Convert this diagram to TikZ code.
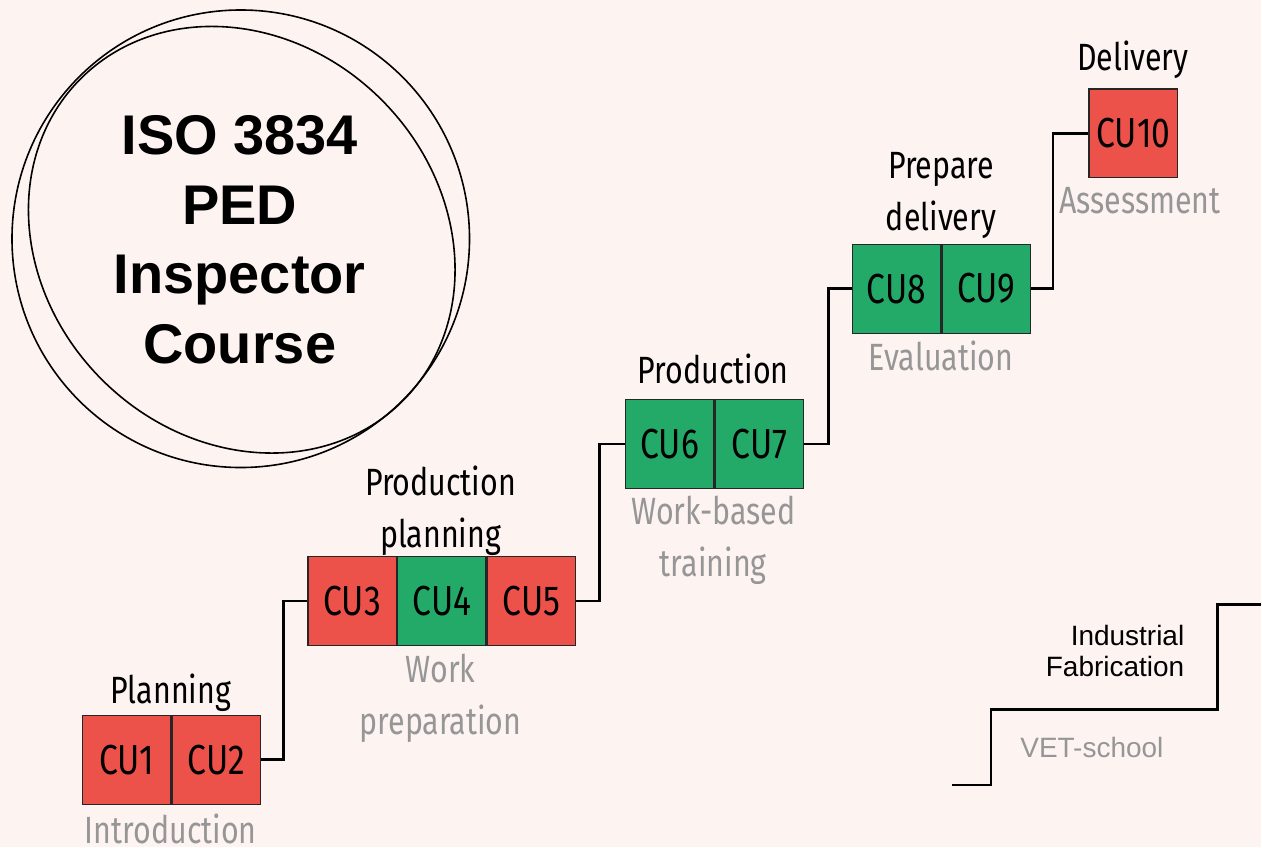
\documentclass[tikz,border=0pt]{standalone}
\usepackage{fontspec}
\setmainfont{Fira Sans}[FakeStretch=0.8]
\newfontfamily\headfont{Liberation Sans}
\usetikzlibrary{positioning}
\definecolor{pageBg}{RGB}{253,244,242}
\definecolor{cuRed}{RGB}{237,82,74}
\definecolor{cuGreen}{RGB}{35,170,105}
\definecolor{labelGrey}{RGB}{150,150,150}

\begin{document}
\begin{tikzpicture}[x=1pt,y=-1pt,
        cu/.style={draw=black!85,line width=1.3pt,minimum width=88.5pt,minimum height=89pt,
                   inner sep=0pt,font=\fontsize{42}{42}\selectfont},
        red cu/.style={cu,fill=cuRed},
        green cu/.style={cu,fill=cuGreen},
        stage/.style={font=\fontsize{38}{52}\selectfont,align=center,inner sep=0pt},
        phase/.style={stage,text=labelGrey},
        link/.style={line width=2.6pt},
        ring/.style={line width=1.6pt}
    ]
    \fill[pageBg] (0,0) rectangle (1262,848);

    % course title
    \draw[ring] (241,239) circle[radius=229];
    \draw[ring,rotate around={-45:(242,240)}] (242,240) ellipse[x radius=228,y radius=198];
    \node[font=\headfont\bfseries\fontsize{56}{69.5}\selectfont,align=center] (title) at (240,240)
        {ISO 3834\\PED\\Inspector\\Course};

    % competence units
    \node[red cu] (cu1) at (127,760.5) {CU1};
    \node[red cu,right=0pt of cu1] (cu2) {CU2};
    \node[red cu] (cu3) at (352.5,601.5) {CU3};
    \node[green cu,right=0pt of cu3] (cu4) {CU4};
    \node[red cu,right=0pt of cu4] (cu5) {CU5};
    \node[green cu] (cu6) at (670.5,444.5) {CU6};
    \node[green cu,right=0pt of cu6] (cu7) {CU7};
    \node[green cu] (cu8) at (897.5,289) {CU8};
    \node[green cu,right=0pt of cu8] (cu9) {CU9};
    \node[red cu] (cu10) at (1134.5,133.5) {CU10};

    \node[stage] (planning) at (171,693) {Planning};
    \node[stage] (prodplan) at (441,511) {Production\\planning};
    \node[stage] (production) at (714,369) {Production};
    \node[stage] (prepare) at (942,196) {Prepare\\delivery};
    \node[stage] (delivery) at (1134,60) {Delivery};

    \node[phase] (intro) at (171,830) {Introduction};
    \node[phase] (workprep) at (441,699) {Work\\preparation};
    \node[phase] (workbased) at (714,541) {Work-based\\training};
    \node[phase] (evaluation) at (942,356) {Evaluation};
    \node[phase] (assessment) at (1141,201) {Assessment};

    % steps between the units
    \draw[link] (cu2.east) -- ++(22,0) |- (cu3.west);
    \draw[link] (cu5.east) -- ++(23,0) |- (cu6.west);
    \draw[link] (cu7.east) -- ++(24,0) |- (cu8.west);
    \draw[link] (cu9.east) -- ++(22,0) |- (cu10.west);

    % school / industry stair
    \draw[link] (953,786) -- (992,786) -- (992,710) -- (1219,710) -- (1219,605) -- (1262,605);
    \node[font=\headfont\fontsize{28}{31}\selectfont,align=right,anchor=east] (industry) at (1189,652)
        {Industrial\\Fabrication};
    \node[font=\headfont\fontsize{28}{31}\selectfont,text=labelGrey] (vet) at (1093,748) {VET-school};
\end{tikzpicture}
\end{document}
